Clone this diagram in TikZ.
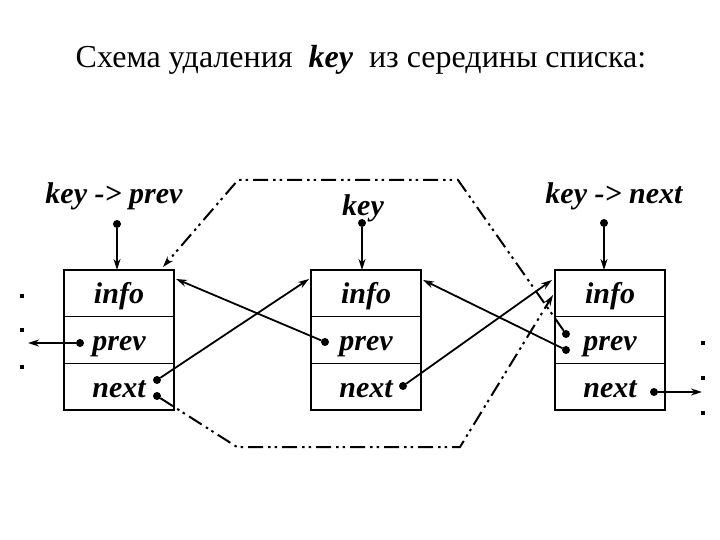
\documentclass[tikz,border=0pt]{standalone}
\usepackage{fontspec}
\setmainfont{Liberation Serif}
\usetikzlibrary{arrows.meta,positioning,calc}
\tikzset{
    cell/.style={draw,line width=1.4pt,outer sep=0pt,inner sep=0pt,minimum width=110pt,minimum height=46.67pt,text height=22pt,text depth=1pt},
    point/.style={circle,fill=black,inner sep=0pt,outer sep=0pt,minimum size=8pt},
    speck/.style={rectangle,fill=black,inner sep=0pt,outer sep=0pt,minimum size=4.5pt},
    arr/.style={-{Stealth[length=11pt,width=7pt]},line width=1.8pt},
    old link/.style={line width=2pt,dash pattern=on 15pt off 5pt on 2.5pt off 4pt on 2.5pt off 5pt},
    title font/.style={font=\fontsize{32}{36}\selectfont},
}
\tikzstyle{every node}=[font=\fontsize{30}{33}\selectfont\bfseries\itshape]

\begin{document}
\begin{tikzpicture}[x=1pt,y=-1pt]
    \useasboundingbox (0,0) rectangle (720,540);
    \node[title font,anchor=base] (title) at (361,68)
        {Схема удаления~ \textbf{\textit{key}} ~из середины списка:};

    \foreach \b/\x in {L/119,M/366,R/610} {
        \node[cell] (\b-info) at (\x,293.3) {info};
        \node[cell,below=0pt of \b-info] (\b-prev) {prev};
        \node[cell,below=0pt of \b-prev] (\b-next) {next};
    }

    \node[anchor=base] (kp label) at (114,204) {key -> prev};
    \node[anchor=base] (k label) at (363,215) {key};
    \node[anchor=base] (kn label) at (614,204) {key -> next};
    \node[point] (kp dot) at (117,224) {};
    \node[point] (k dot) at (362,223) {};
    \node[point] (kn dot) at (604,223) {};
    \draw[arr] (kp dot) -- (kp dot |- L-info.north);
    \draw[arr] (k dot) -- (k dot |- M-info.north);
    \draw[arr] (kn dot) -- (kn dot |- R-info.north);

    \node[point] (L prev dot) at (80,343) {};
    \node[point] (L next dot a) at (157,380) {};
    \node[point] (L next dot b) at (157,396) {};
    \node[point] (M prev dot) at (325,342) {};
    \node[point] (M next dot) at (403,386) {};
    \node[point] (R prev dot a) at (566,334) {};
    \node[point] (R prev dot b) at (566,350) {};
    \node[point] (R next dot) at (654,392) {};

    \coordinate (L out) at (28,343);
    \coordinate (R out) at (702,392);
    \draw[arr] (L prev dot) -- (L out);
    \draw[arr] (R next dot) -- (R out);

    \draw[arr] (L next dot a) -- ($(M-info.north west)+(-2,9)$);
    \draw[arr] (M prev dot) -- ($(L-info.north east)+(2,9)$);
    \draw[arr] (M next dot) -- ($(R-info.north west)+(-3,10)$);
    \draw[arr] (R prev dot b) -- ($(M-info.north east)+(2,10)$);

    \coordinate (top a) at (458,180);
    \coordinate (top b) at (238,180);
    \coordinate (bot a) at (237,447);
    \coordinate (bot b) at (460,447);
    \coordinate (L tip) at (163,267);
    \coordinate (R tip) at (553,295);
    \draw[old link,-{Stealth[length=11pt,width=7pt]}] (R prev dot a) -- (top a) -- (top b) -- (L tip);
    \draw[old link,-{Stealth[length=11pt,width=7pt]}] (L next dot b) -- (bot a) -- (bot b) -- (R tip);

    \foreach \y [count=\i] in {296,330,367} {
        \node[speck] (L speck \i) at (22,\y) {};
    }
    \foreach \y [count=\i] in {343,378,413} {
        \node[speck] (R speck \i) at (703,\y) {};
    }
\end{tikzpicture}
\end{document}
